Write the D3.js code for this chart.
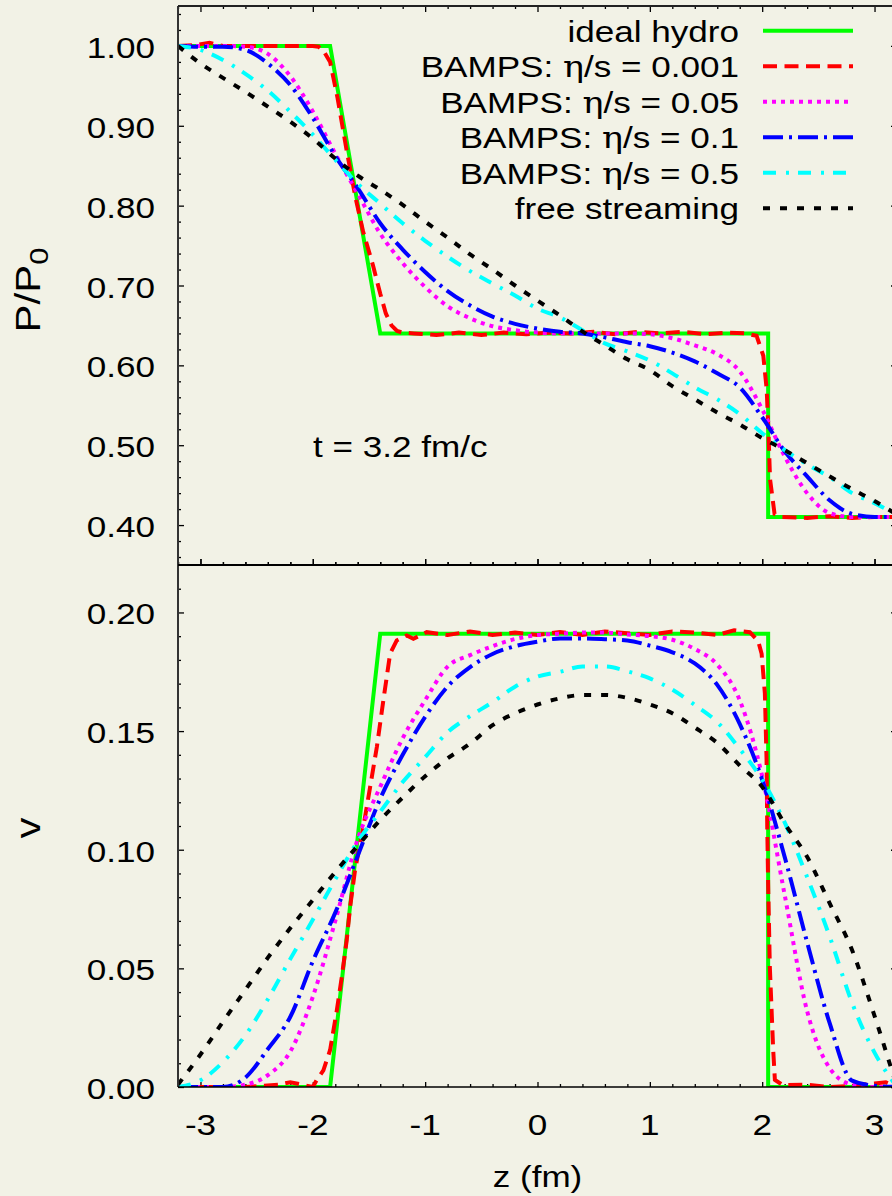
<!DOCTYPE html>
<html><head><meta charset="utf-8">
<script src="https://cdn.jsdelivr.net/npm/d3@7"></script>
<style>
html,body{margin:0;padding:0;background:#f2f2e6;}
svg{display:block;}
text{font-family:"Liberation Sans",Arial,Helvetica,sans-serif;fill:#000;}
</style></head><body>
<svg id="chart" width="892" height="1196"></svg>
<script>
// ---------------- data ----------------
const zGrid = [-3.2,-3.0,-2.8,-2.6,-2.4,-2.2,-2.0,-1.8,-1.6,-1.4,-1.2,-1.0,-0.8,-0.6,-0.4,-0.2,0,0.2,0.4,0.6,0.8,1.0,1.2,1.4,1.6,1.8,2.0,2.2,2.4,2.6,2.8,3.0,3.2];

// ideal hydro
const zIdeal = [-3.2,-1.846,-1.40,2.053,2.053,3.2];
const pIdeal = [1.0,1.0,0.64,0.64,0.41,0.41];
const vIdeal = [0,0,0.191,0.191,0,0];

// BAMPS eta/s = 0.001 (own z sampling)
const zRedP = [-3.2,-3.05,-2.92,-2.8,-2.6,-2.4,-2.2,-2.0,-1.95,-1.91,-1.846,-1.78,-1.70,-1.62,-1.553,-1.464,-1.40,-1.35,-1.30,-1.25,-1.2,-1.1,-0.9,-0.7,-0.5,-0.3,-0.1,0.1,0.3,0.5,0.7,0.9,1.1,1.3,1.5,1.7,1.85,1.95,2.01,2.04,2.055,2.07,2.11,2.18,2.4,2.6,2.8,3.0,3.2];
const pRed = [1.0,1.001,1.004,1.0,1.0,1.0,1.0,1.0,0.999,0.995,0.98,0.935,0.87,0.81,0.768,0.725,0.69,0.665,0.65,0.643,0.641,0.64,0.638,0.641,0.638,0.641,0.639,0.641,0.640,0.642,0.639,0.642,0.640,0.642,0.639,0.641,0.640,0.637,0.612,0.57,0.52,0.4575,0.414,0.41,0.409,0.411,0.409,0.41,0.41];
const zRedV = [-3.2,-2.6,-2.3,-2.2,-2.1,-2.0,-1.964,-1.906,-1.846,-1.786,-1.742,-1.698,-1.668,-1.624,-1.55,-1.49,-1.43,-1.372,-1.312,-1.253,-1.164,-1.105,-0.986,-0.8,-0.6,-0.4,-0.2,0,0.2,0.4,0.6,0.8,1.0,1.2,1.4,1.6,1.75,1.89,1.964,1.995,2.024,2.039,2.045,2.053,2.068,2.098,2.113,2.184,2.4,2.6,2.8,3.0,3.1,3.2];
const vRed = [0,0,0.001,0.002,0.001,0,0.003,0.007,0.0156,0.0324,0.0464,0.0619,0.0759,0.0914,0.1096,0.1264,0.1433,0.163,0.1826,0.1882,0.1903,0.1889,0.1917,0.1905,0.192,0.1905,0.1915,0.1905,0.1918,0.1905,0.192,0.1912,0.1905,0.192,0.1915,0.1905,0.1925,0.1917,0.188,0.1826,0.1658,0.1377,0.1096,0.0858,0.0507,0.0156,0.003,0.0008,0.001,0,0.0005,0.0015,0.002,0];

// on zGrid
const pEta005 = [1.00,1.00,1.00,0.999,0.99,0.962,0.918,0.865,0.815,0.765,0.728,0.698,0.674,0.659,0.649,0.644,0.641,0.640,0.640,0.640,0.640,0.639,0.634,0.625,0.614,0.5925,0.545,0.486,0.44,0.415,0.41,0.41,0.41];
const pEta01  = [1.00,0.999,0.999,0.995,0.978,0.951,0.91,0.862,0.822,0.778,0.745,0.717,0.693,0.675,0.661,0.652,0.646,0.642,0.640,0.635,0.629,0.624,0.616,0.605,0.59,0.5725,0.535,0.4925,0.461,0.431,0.414,0.41,0.41];
const pEta05  = [1.00,0.995,0.9825,0.965,0.944,0.9175,0.889,0.8575,0.8275,0.8025,0.778,0.756,0.736,0.718,0.7025,0.6875,0.671,0.66,0.644,0.6275,0.6175,0.606,0.59,0.5725,0.5575,0.539,0.515,0.494,0.476,0.46,0.44,0.4275,0.4125];
const pFree   = [1.00,0.978,0.96,0.9425,0.924,0.905,0.884,0.859,0.8375,0.82,0.801,0.78,0.76,0.739,0.72,0.70,0.681,0.6625,0.6425,0.625,0.6075,0.594,0.574,0.5575,0.541,0.526,0.509,0.494,0.4775,0.461,0.445,0.43,0.413];

const vEta005 = [0,0,0,0.001,0.005,0.015,0.038,0.070,0.1045,0.1265,0.147,0.163,0.1772,0.182,0.1858,0.1888,0.1905,0.191,0.1915,0.1915,0.1907,0.19,0.1885,0.1846,0.178,0.163,0.131,0.081,0.032,0.008,0.001,0,0];
const vEta01  = [0,0,0,0.004,0.016,0.0296,0.053,0.0735,0.0975,0.1215,0.14,0.156,0.1688,0.177,0.1825,0.1858,0.1877,0.189,0.189,0.1887,0.1882,0.186,0.1832,0.1785,0.1695,0.153,0.1295,0.097,0.061,0.027,0.0027,0.0005,0];
const vEta05  = [0,0.0028,0.0105,0.0218,0.037,0.054,0.0705,0.0875,0.1035,0.116,0.1285,0.139,0.1495,0.1563,0.1622,0.1687,0.173,0.175,0.1772,0.1772,0.1752,0.1722,0.1675,0.161,0.1538,0.1425,0.1295,0.1115,0.0885,0.0635,0.0355,0.0145,0];
const vFree   = [0.001,0.0137,0.0275,0.041,0.0545,0.067,0.0788,0.0906,0.1017,0.1125,0.122,0.131,0.1385,0.1447,0.1525,0.1575,0.1612,0.1638,0.1652,0.1652,0.164,0.1612,0.1575,0.1515,0.145,0.1355,0.1265,0.111,0.097,0.0775,0.0577,0.030,0];

const seriesNames = ["ideal hydro","BAMPS: η/s = 0.001","BAMPS: η/s = 0.05","BAMPS: η/s = 0.1","BAMPS: η/s = 0.5","free streaming"];
const xTickValues = [-3,-2,-1,0,1,2,3];
const xTickLabels = ["-3","-2","-1","0","1","2","3"];
const pTickValues = [0.4,0.5,0.6,0.7,0.8,0.9,1.0];
const pTickLabels = ["0.40","0.50","0.60","0.70","0.80","0.90","1.00"];
const vTickValues = [0,0.05,0.1,0.15,0.2];
const vTickLabels = ["0.00","0.05","0.10","0.15","0.20"];

// ---------------- layout ----------------
const FS = 30, SX = 1.17, SL = 1.4;
const L = 178, R = 897, T = 6, M = 565, B = 1087;
const svg = d3.select("#chart");
svg.append("rect").attr("width",892).attr("height",1196).attr("fill","#f2f2e6");

const x = d3.scaleLinear().domain([-3.2,3.2]).range([L,R]);
const yP = d3.scaleLinear().domain([0.35,1.05]).range([M,T]);
const yV = d3.scaleLinear().domain([0,0.22]).range([B,M]);

const styles = [
  {color:"#00ff00", dash:null, w:4},
  {color:"#ff0000", dash:"14,7.5", w:4},
  {color:"#ff00ff", dash:"4,5", w:4},
  {color:"#0000ff", dash:"20,6,3,6", w:4},
  {color:"#00ffff", dash:"13,10,3,9", w:4},
  {color:"#000000", dash:"7,10", w:4}
];

function txt(g, px, py, str, anchor, opts={}){
  const t = g.append("text")
    .attr("transform", opts.rot ? `translate(${px},${py}) scale(${SX},${SL}) rotate(-90)` : `translate(${px},${py}) scale(${SX},1)`)
    .attr("text-anchor", anchor).attr("font-size", opts.fs || FS);
  const parts = str.split("η");
  parts.forEach((p,i)=>{
    if(i>0) t.append("tspan").attr("font-family","'DejaVu Serif','Liberation Serif',serif").text("η");
    if(p) t.append("tspan").text(p);
  });
  return t;
}

// clip paths
const defs = svg.append("defs");
defs.append("clipPath").attr("id","cTop").append("rect").attr("x",L).attr("y",T).attr("width",R-L).attr("height",M-T);
defs.append("clipPath").attr("id","cBot").append("rect").attr("x",L).attr("y",M).attr("width",R-L).attr("height",B-M);

// ticks via d3 axes
function ticks(axisGen, tx, ty, vals, size){
  const g = svg.append("g").attr("transform",`translate(${tx},${ty})`)
    .call(axisGen.tickValues(vals).tickSize(size).tickSizeOuter(0).tickFormat(""));
  g.select(".domain").remove();
  g.selectAll("line").attr("stroke","#000").attr("stroke-width",1.3);
}
const xMinor = d3.range(-3.2,3.21,0.2).filter(v=>Math.abs(v-Math.round(v))>1e-6);
const pMinor = d3.range(0.36,1.045,0.02).filter(v=>Math.abs(v*10-Math.round(v*10))>1e-6);
const vMinor = d3.range(0.01,0.215,0.01).filter(v=>Math.abs(v*20-Math.round(v*20))>1e-6);
// top panel
ticks(d3.axisLeft(yP), L,0, pTickValues, -6);
ticks(d3.axisLeft(yP), L,0, pMinor, -3);
ticks(d3.axisRight(yP), R,0, pTickValues, -6);
ticks(d3.axisRight(yP), R,0, pMinor, -3);
ticks(d3.axisTop(x), 0,T, xTickValues, -6);
ticks(d3.axisTop(x), 0,T, xMinor, -3);
ticks(d3.axisBottom(x), 0,M, xTickValues, -6);
ticks(d3.axisBottom(x), 0,M, xMinor, -3);
// bottom panel
ticks(d3.axisLeft(yV), L,0, vTickValues, -6);
ticks(d3.axisLeft(yV), L,0, vMinor, -3);
ticks(d3.axisRight(yV), R,0, vTickValues, -6);
ticks(d3.axisRight(yV), R,0, vMinor, -3);
ticks(d3.axisTop(x), 0,M, xTickValues, 6);
ticks(d3.axisTop(x), 0,M, xMinor, 3);
ticks(d3.axisBottom(x), 0,B, xTickValues, -5);
ticks(d3.axisBottom(x), 0,B, xMinor, -3);

// curves
const zip = (zs, ys) => zs.map((z,i)=>[z,ys[i]]);
const topSets = [zip(zIdeal,pIdeal), zip(zRedP,pRed), zip(zGrid,pEta005), zip(zGrid,pEta01), zip(zGrid,pEta05), zip(zGrid,pFree)];
const botSets = [zip(zIdeal,vIdeal), zip(zRedV,vRed), zip(zGrid,vEta005), zip(zGrid,vEta01), zip(zGrid,vEta05), zip(zGrid,vFree)];

function draw(sets, ys, clip){
  const g = svg.append("g").attr("clip-path",`url(#${clip})`);
  sets.forEach((d,i)=>{
    const curve = i<2 ? d3.curveLinear : d3.curveMonotoneX;
    const ln = d3.line().curve(curve).x(p=>x(p[0])).y(p=>ys(p[1]));
    g.append("path").attr("d",ln(d)).attr("fill","none")
      .attr("stroke",styles[i].color).attr("stroke-width",styles[i].w)
      .attr("stroke-dasharray",styles[i].dash).attr("stroke-linejoin","miter");
  });
}
draw(topSets, yP, "cTop");
draw(botSets, yV, "cBot");

// frame
const fr = svg.append("g").attr("fill","none");
fr.append("line").attr("x1",L).attr("x2",L).attr("y1",T).attr("y2",B).attr("stroke","#333").attr("stroke-width",2);
fr.append("line").attr("x1",L).attr("x2",R).attr("y1",T).attr("y2",T).attr("stroke","#222").attr("stroke-width",2);
fr.append("line").attr("x1",L).attr("x2",R).attr("y1",M).attr("y2",M).attr("stroke","#000").attr("stroke-width",2);
fr.append("line").attr("x1",L).attr("x2",R).attr("y1",B).attr("y2",B).attr("stroke","#000").attr("stroke-width",1.6);
fr.append("line").attr("x1",R).attr("x2",R).attr("y1",T).attr("y2",B).attr("stroke","#000").attr("stroke-width",2);

// tick labels
const lab = svg.append("g");
pTickValues.forEach((v,i)=>txt(lab, 155, yP(v)+12, pTickLabels[i], "end"));
vTickValues.forEach((v,i)=>txt(lab, 155, yV(v)+12, vTickLabels[i], "end"));
xTickValues.forEach((v,i)=>txt(lab, x(v), 1135, xTickLabels[i], "middle"));

// axis titles
const pl = txt(lab, 40, 290, "P/P", "middle", {rot:true});
pl.append("tspan").attr("font-size",22).attr("dy",7).text("0");
txt(lab, 40, 828, "v", "middle", {rot:true});
txt(lab, x(0), 1187, "z (fm)", "middle");
txt(lab, 313, 457, "t = 3.2 fm/c", "start");

// legend
const lg = svg.append("g");
seriesNames.forEach((name,i)=>{
  const cy = 30.7 + 35.5*i;
  txt(lg, 739, cy+11, name, "end");
  lg.append("line").attr("x1",763).attr("x2",853).attr("y1",cy).attr("y2",cy)
    .attr("stroke",styles[i].color).attr("stroke-width",styles[i].w)
    .attr("stroke-dasharray",styles[i].dash);
});
</script>
</body></html>
